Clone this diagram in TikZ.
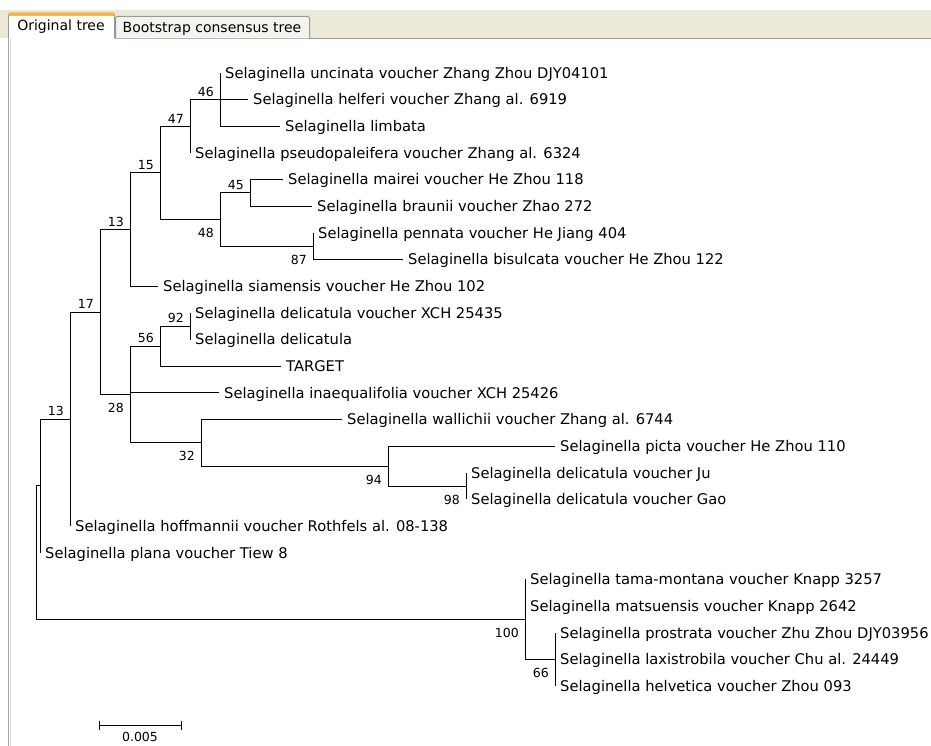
\documentclass[tikz,border=0pt]{standalone}
\usepackage{fontspec}
\setmainfont{DejaVu Sans}
\definecolor{beige}{HTML}{ECE9D8}
\definecolor{tabborder}{HTML}{919B9C}
\definecolor{tabsel}{HTML}{F5B642}
\definecolor{tabfill}{HTML}{F4F3EE}
\definecolor{panelline}{HTML}{A7A6AA}
\begin{document}
\begin{tikzpicture}[x=1pt,y=-1pt,
  br/.style={line width=1pt, black},
  leaf/.style={anchor=west, inner sep=0pt, font=\fontsize{14.7}{16}\selectfont, text height=10.7pt, text depth=0pt, xshift=5pt},
  bsa/.style={anchor=east, inner sep=0pt, font=\fontsize{12.5}{14}\selectfont, text height=9.1pt, text depth=0pt, xshift=-6pt, yshift=7.8pt},
  bsb/.style={anchor=east, inner sep=0pt, font=\fontsize{12.5}{14}\selectfont, text height=9.1pt, text depth=0pt, xshift=-6pt, yshift=-13.5pt},
  tabtext/.style={inner sep=0pt, font=\fontsize{14}{16}\selectfont, text height=10.2pt, text depth=0pt}
]
\useasboundingbox (0,0) rectangle (931,746);
\fill[white] (0,0) rectangle (931,746);
% window chrome
\fill[beige] (0,10) rectangle (931,38);
\draw[tabborder, line width=1pt] (115,38.5) -- (931,38.5);
\draw[tabborder, fill=tabfill, line width=1pt, rounded corners=2pt] (115.5,38.5) -- (115.5,16.5) -- (309.5,16.5) -- (309.5,38.5);
\fill[white] (8.5,13) rectangle (115,40);
\draw[tabborder, line width=1pt] (8.5,746) -- (8.5,15) (114.5,15) -- (114.5,38);
\fill[tabsel, rounded corners=1.5pt] (8,12.5) rectangle (115,16);
\draw[panelline, line width=1pt] (8.5,38) -- (8.5,746);
\draw[black!12, line width=1pt] (10,38) -- (10,746);
\node[tabtext] (tab1) at (61,25.5) {Original tree};
\node[tabtext] (tab2) at (212,27.5) {Bootstrap consensus tree};

% internal nodes
\coordinate (n46) at (220,99.65);
\coordinate (n47) at (190,126.30);
\coordinate (n45) at (250,192.93);
\coordinate (n87) at (313,246.23);
\coordinate (n48) at (220,219.58);
\coordinate (n15) at (160,172.94);
\coordinate (n13u) at (130,229.57);
\coordinate (n92) at (190,326.18);
\coordinate (n56) at (160,346.16);
\coordinate (n98) at (466,486.08);
\coordinate (n94) at (388,466.09);
\coordinate (n32) at (201,442.77);
\coordinate (n28) at (130,394.47);
\coordinate (n17) at (100,312.02);
\coordinate (n13l) at (70,419.04);
\coordinate (nX) at (40,485.87);
\coordinate (n66) at (555,659.30);
\coordinate (n100) at (525,619.33);
\coordinate (root) at (36,552.60);

% leaves
\coordinate (l1) at (220,73.00);
\coordinate (l2) at (248,99.65);
\coordinate (l3) at (280,126.30);
\coordinate (l4) at (190,152.95);
\coordinate (l5) at (283,179.60);
\coordinate (l6) at (312,206.25);
\coordinate (l7) at (313,232.90);
\coordinate (l8) at (403,259.55);
\coordinate (l9) at (158,286.20);
\coordinate (l10) at (190,312.85);
\coordinate (l11) at (190,339.50);
\coordinate (l12) at (281,366.15);
\coordinate (l13) at (219,392.80);
\coordinate (l14) at (342,419.45);
\coordinate (l15) at (555,446.10);
\coordinate (l16) at (466,472.75);
\coordinate (l17) at (466,499.40);
\coordinate (l18) at (70,526.05);
\coordinate (l19) at (40,552.70);
\coordinate (l20) at (525,579.35);
\coordinate (l21) at (525,606.00);
\coordinate (l22) at (555,632.65);
\coordinate (l23) at (555,659.30);
\coordinate (l24) at (555,685.95);

% branches
\draw[br] (n46) |- (l1) (n46) |- (l2) (n46) |- (l3);
\draw[br] (n47) |- (n46) (n47) |- (l4);
\draw[br] (n45) |- (l5) (n45) |- (l6);
\draw[br] (n87) |- (l7) (n87) |- (l8);
\draw[br] (n48) |- (n45) (n48) |- (n87);
\draw[br] (n15) |- (n47) (n15) |- (n48);
\draw[br] (n13u) |- (n15) (n13u) |- (l9);
\draw[br] (n92) |- (l10) (n92) |- (l11);
\draw[br] (n56) |- (n92) (n56) |- (l12);
\draw[br] (n98) |- (l16) (n98) |- (l17);
\draw[br] (n94) |- (l15) (n94) |- (n98);
\draw[br] (n32) |- (l14) (n32) |- (n94);
\draw[br] (n28) |- (n56) (n28) |- (l13) (n28) |- (n32);
\draw[br] (n17) |- (n13u) (n17) |- (n28);
\draw[br] (n13l) |- (n17) (n13l) |- (l18);
\draw[br] (nX) |- (n13l) (nX) |- (l19);
\draw[br] (n66) |- (l22) (n66) |- (l23) (n66) |- (l24);
\draw[br] (n100) |- (l20) (n100) |- (l21) (n100) |- (n66);
\draw[br] (root) |- (nX) (root) |- (n100);

% leaf labels
\node[leaf] (t1) at (l1) {Selaginella uncinata voucher Zhang Zhou DJY04101};
\node[leaf] (t2) at (l2) {Selaginella helferi voucher Zhang al. 6919};
\node[leaf] (t3) at (l3) {Selaginella limbata};
\node[leaf] (t4) at (l4) {Selaginella pseudopaleifera voucher Zhang al. 6324};
\node[leaf] (t5) at (l5) {Selaginella mairei voucher He Zhou 118};
\node[leaf] (t6) at (l6) {Selaginella braunii voucher Zhao 272};
\node[leaf] (t7) at (l7) {Selaginella pennata voucher He Jiang 404};
\node[leaf] (t8) at (l8) {Selaginella bisulcata voucher He Zhou 122};
\node[leaf] (t9) at (l9) {Selaginella siamensis voucher He Zhou 102};
\node[leaf] (t10) at (l10) {Selaginella delicatula voucher XCH 25435};
\node[leaf] (t11) at (l11) {Selaginella delicatula};
\node[leaf] (t12) at (l12) {TARGET};
\node[leaf] (t13) at (l13) {Selaginella inaequalifolia voucher XCH 25426};
\node[leaf] (t14) at (l14) {Selaginella wallichii voucher Zhang al. 6744};
\node[leaf] (t15) at (l15) {Selaginella picta voucher He Zhou 110};
\node[leaf] (t16) at (l16) {Selaginella delicatula voucher Ju};
\node[leaf] (t17) at (l17) {Selaginella delicatula voucher Gao};
\node[leaf] (t18) at (l18) {Selaginella hoffmannii voucher Rothfels al. 08-138};
\node[leaf] (t19) at (l19) {Selaginella plana voucher Tiew 8};
\node[leaf] (t20) at (l20) {Selaginella tama-montana voucher Knapp 3257};
\node[leaf] (t21) at (l21) {Selaginella matsuensis voucher Knapp 2642};
\node[leaf] (t22) at (l22) {Selaginella prostrata voucher Zhu Zhou DJY03956};
\node[leaf] (t23) at (l23) {Selaginella laxistrobila voucher Chu al. 24449};
\node[leaf] (t24) at (l24) {Selaginella helvetica voucher Zhou 093};

% bootstrap values
\node[bsa] (b46) at (n46) {46};
\node[bsa] (b47) at (n47) {47};
\node[bsa] (b15) at (n15) {15};
\node[bsa] (b13u) at (n13u) {13};
\node[bsa] (b45) at (n45) {45};
\node[bsa] (b17) at (n17) {17};
\node[bsa] (b13l) at (n13l) {13};
\node[bsa] (b56) at (n56) {56};
\node[bsa] (b92) at (n92) {92};
\node[bsb] (b48) at (n48) {48};
\node[bsb] (b87) at (n87) {87};
\node[bsb] (b28) at (n28) {28};
\node[bsb] (b32) at (n32) {32};
\node[bsb] (b94) at (n94) {94};
\node[bsb] (b98) at (n98) {98};
\node[bsb] (b100) at (n100) {100};
\node[bsb] (b66) at (n66) {66};

% scale bar
\coordinate (sb1) at (99,725);
\coordinate (sb2) at (181,725);
\draw[br] (sb1) -- (sb2);
\draw[br] ([yshift=4.5pt]sb1) -- ([yshift=-4.5pt]sb1);
\draw[br] ([yshift=4.5pt]sb2) -- ([yshift=-4.5pt]sb2);
\node[inner sep=0pt, font=\fontsize{12.5}{14}\selectfont, text height=9.1pt, text depth=0pt] (sblabel) at (140,737) {0.005};
\end{tikzpicture}
\end{document}
